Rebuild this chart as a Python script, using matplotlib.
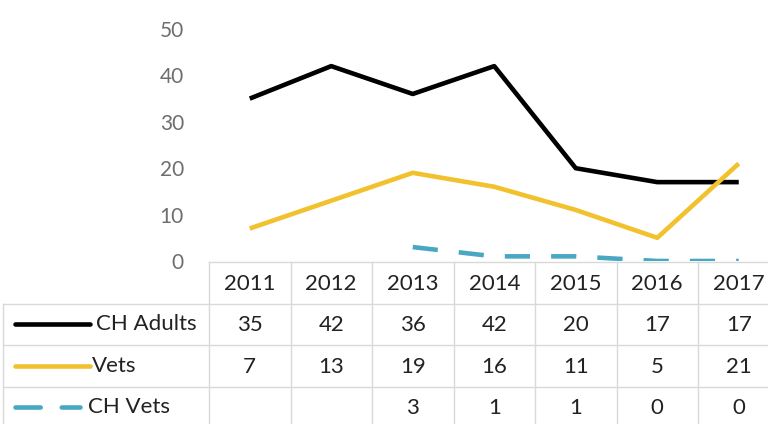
import matplotlib
matplotlib.use("Agg")
import matplotlib.pyplot as plt

years = ["2011", "2012", "2013", "2014", "2015", "2016", "2017"]
ch_adults = [35, 42, 36, 42, 20, 17, 17]
vets = [7, 13, 19, 16, 11, 5, 21]
ch_vets = [None, None, 3, 1, 1, 0, 0]

names = ["CH Adults", "Vets", "CH Vets"]
colors = ["#000000", "#F2C12E", "#48A8C2"]
styles = ["-", "-", (0, (5.5, 4.6))]
series = [ch_adults, vets, ch_vets]

plt.rcParams["font.family"] = ["Lato", "DejaVu Sans"]

W, H = 768, 424
fig = plt.figure(figsize=(W / 100, H / 100), dpi=100)

# column grid in pixels
col0 = 209
colw = 81.5
ncol = len(years)
left = col0 / W
width = ncol * colw / W

# main plot
ax = fig.add_axes([left, (H - 261) / H, width, (261 - 29) / H])
x = list(range(ncol))
for vals, c, ls in zip(series, colors, styles):
    xs = [i for i, v in zip(x, vals) if v is not None]
    ys = [v for v in vals if v is not None]
    ax.plot(xs, ys, color=c, lw=3.3, linestyle=ls,
            solid_joinstyle="round", solid_capstyle="butt", dash_capstyle="butt")
ax.set_xlim(-0.5, ncol - 0.5)
ax.set_ylim(0, 50)
ax.set_yticks(range(0, 51, 10))
ax.set_xticks([])
ax.tick_params(axis="y", length=0, pad=18, labelsize=15, labelcolor="#6E6E6E")
for s in ax.spines.values():
    s.set_visible(False)
ax.patch.set_alpha(0)

# data table
rowh = 41.5
nrow = 4
tb = fig.add_axes([left, (H - (262 + nrow * rowh)) / H, width, nrow * rowh / H])
tb.set_xlim(-0.5, ncol - 0.5)
tb.set_ylim(nrow, 0)
tb.axis("off")

def px2col(px):
    return (px - col0) / colw - 0.5

gc = "#D9D9D9"
xl = px2col(3)
xr = px2col(800)
tb.plot([-0.5, xr], [0, 0], color=gc, lw=1, clip_on=False)
for r in range(1, nrow):
    tb.plot([xl, xr], [r, r], color=gc, lw=1, clip_on=False)
tb.plot([xl, xl], [1, nrow], color=gc, lw=1, clip_on=False)
for c in range(ncol + 1):
    tb.plot([c - 0.5, c - 0.5], [0, nrow], color=gc, lw=1, clip_on=False)

tc = "#222222"
fs = 16
label_px = [96, 92, 88]
key_end = [90, 90, 80]
for i, y in enumerate(years):
    tb.text(i, 0.52, y, ha="center", va="center", fontsize=fs, color=tc, clip_on=False)

for r, (name, vals, c, ls) in enumerate(zip(names, series, colors, styles), start=1):
    tb.plot([px2col(15), px2col(key_end[r - 1])], [r + 0.5, r + 0.5], color=c, lw=3.3,
            linestyle=ls, solid_capstyle="round", dash_capstyle="round", clip_on=False)
    tb.text(px2col(label_px[r - 1]), r + 0.5, name, ha="left", va="center",
            fontsize=fs, color=tc, clip_on=False)
    for i, v in enumerate(vals):
        if v is not None:
            tb.text(i, r + 0.52, str(v), ha="center", va="center", fontsize=fs,
                    color=tc, clip_on=False)

fig.savefig("out.png", dpi=100, facecolor="white")
